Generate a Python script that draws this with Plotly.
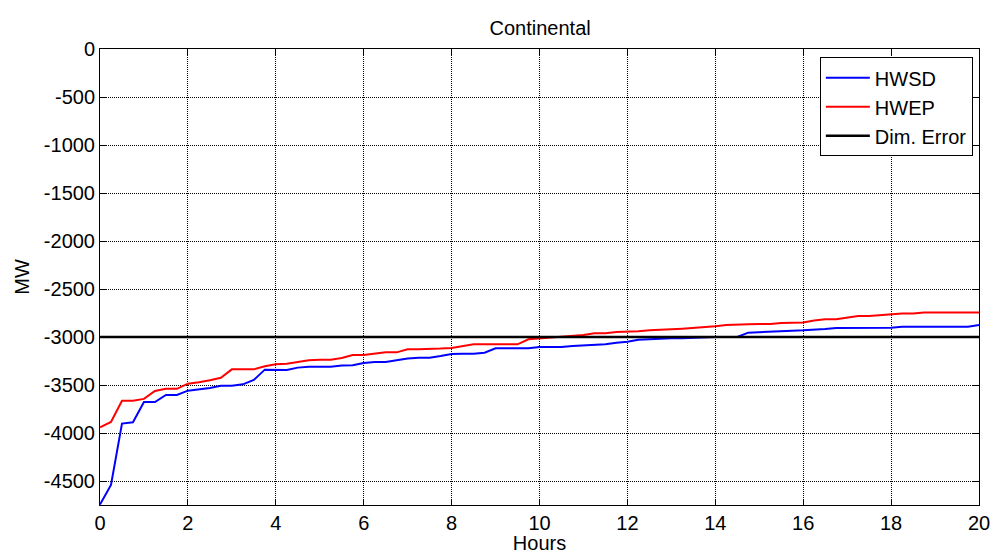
import plotly.graph_objects as go

# Time axis: quarter-hour steps over 20 hours
hours = [i * 0.25 for i in range(81)]

hwsd = [
    -4745, -4542, -3902, -3889, -3677, -3677, -3604, -3604,
    -3559, -3545, -3531, -3507, -3507, -3493, -3448, -3340,
    -3340, -3344, -3319, -3309, -3309, -3309, -3298, -3295,
    -3271, -3260, -3260, -3240, -3225, -3215, -3215, -3198,
    -3176, -3174, -3174, -3163, -3118, -3118, -3118, -3118,
    -3104, -3104, -3104, -3094, -3087, -3087, -3076, -3059,
    -3049, -3028, -3021, -3021, -3014, -3014, -3007, -3000,
    -3000, -3000, -3000, -2955, -2948, -2941, -2941, -2934,
    -2930, -2927, -2917, -2906, -2906, -2906, -2906, -2906,
    -2903, -2892, -2892, -2892, -2892, -2892, -2892, -2892,
    -2875,
]

hwep = [
    -3940, -3885, -3664, -3664, -3645, -3562, -3540, -3540,
    -3486, -3472, -3450, -3424, -3337, -3337, -3337, -3305,
    -3284, -3278, -3260, -3243, -3236, -3236, -3219, -3187,
    -3187, -3174, -3160, -3160, -3128, -3128, -3128, -3121,
    -3114, -3097, -3076, -3076, -3076, -3076, -3076, -3024,
    -3014, -3007, -3000, -2990, -2979, -2962, -2962, -2948,
    -2948, -2941, -2930, -2927, -2920, -2913, -2906, -2899,
    -2889, -2875, -2875, -2868, -2865, -2865, -2854, -2854,
    -2850, -2829, -2816, -2816, -2802, -2781, -2781, -2771,
    -2767, -2756, -2756, -2746, -2746, -2746, -2746, -2746,
    -2746,
]

dim_error_hours = [0, 20]
dim_error = [-3000, -3000]

x_ticks = list(range(0, 21, 2))
y_ticks = list(range(0, -5000, -500))

FONT = "Liberation Sans, Arial, sans-serif"

fig = go.Figure()
fig.add_trace(go.Scatter(x=hours, y=hwsd, mode="lines", name="HWSD",
                         line=dict(color="#0000ff", width=2)))
fig.add_trace(go.Scatter(x=hours, y=hwep, mode="lines", name="HWEP",
                         line=dict(color="#ff0000", width=2)))
fig.add_trace(go.Scatter(x=dim_error_hours, y=dim_error, mode="lines",
                         name="Dim. Error",
                         line=dict(color="#000000", width=2.5)))

axis_common = dict(
    showline=True, linecolor="black", linewidth=1, mirror="ticks",
    ticks="inside", ticklen=6, tickcolor="black", tickwidth=1,
    showgrid=True, gridcolor="#000000", gridwidth=1, griddash="1px,1px",
    zeroline=False, automargin=False,
    tickfont=dict(family=FONT, size=20, color="black"),
)

fig.update_xaxes(
    range=[0, 20], tickvals=x_ticks, ticktext=[str(v) for v in x_ticks],
    title=dict(text="Hours", font=dict(family=FONT, size=20, color="black"),
               standoff=4),
    **axis_common,
)
fig.update_yaxes(
    range=[-4750, 0], tickvals=y_ticks, ticktext=[str(v) for v in y_ticks],
    title=dict(text="MW", font=dict(family=FONT, size=20, color="black"),
               standoff=8),
    **axis_common,
)

fig.update_layout(
    width=994, height=554,
    margin=dict(l=100, r=15, t=49, b=49),
    paper_bgcolor="white", plot_bgcolor="white",
    font=dict(family=FONT, size=20, color="black"),
    title=dict(text="Continental", x=0.5434, xanchor="center",
               y=1 - 28 / 554, yanchor="middle",
               font=dict(family=FONT, size=20, color="black")),
    legend=dict(x=0.993, y=0.982, xanchor="right", yanchor="top",
                bgcolor="white", bordercolor="black", borderwidth=1,
                font=dict(family=FONT, size=20, color="black"),
                itemwidth=44, tracegroupgap=0),
    showlegend=True,
)

fig.write_html("out.html")
